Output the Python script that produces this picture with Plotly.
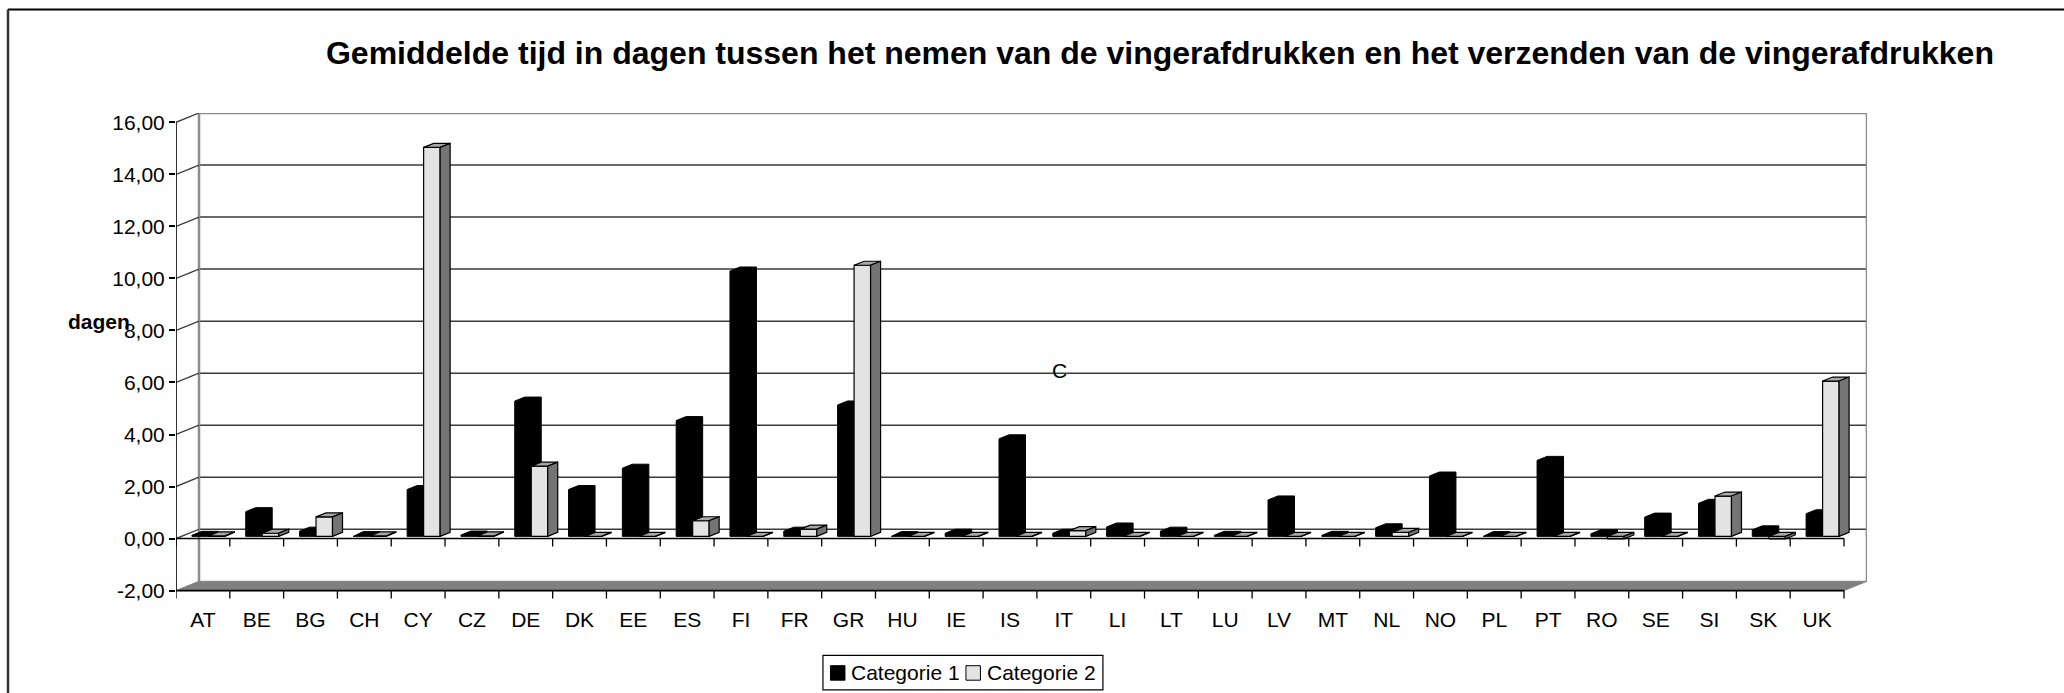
import plotly.graph_objects as go

# ---------------- data ----------------
categories = ["AT", "BE", "BG", "CH", "CY", "CZ", "DE", "DK", "EE", "ES", "FI",
              "FR", "GR", "HU", "IE", "IS", "IT", "LI", "LT", "LU", "LV", "MT",
              "NL", "NO", "PL", "PT", "RO", "SE", "SI", "SK", "UK"]
categorie_1 = [0.04, 0.95, 0.20, 0.03, 1.80, 0.05, 5.20, 1.80, 2.62, 4.45, 10.20,
               0.20, 5.05, 0.03, 0.12, 3.75, 0.12, 0.36, 0.20, 0.04, 1.40, 0.04,
               0.33, 2.32, 0.03, 2.92, 0.10, 0.74, 1.27, 0.25, 0.87]
categorie_2 = [0.02, 0.12, 0.75, 0.02, 14.95, 0.02, 2.70, 0.00, 0.00, 0.60, 0.00,
               0.28, 10.42, 0.00, 0.00, 0.00, 0.22, 0.00, 0.00, 0.00, 0.00, 0.00,
               0.15, 0.00, 0.00, 0.00, -0.10, 0.00, 1.55, -0.10, 5.97]
y_tick_vals = [-2, 0, 2, 4, 6, 8, 10, 12, 14, 16]
y_tick_text = ["-2,00", "0,00", "2,00", "4,00", "6,00", "8,00", "10,00", "12,00", "14,00", "16,00"]
series_names = ["Categorie 1", "Categorie 2"]
series_colors = ["black", "#e3e3e3"]
title_text = ("Gemiddelde tijd in dagen tussen het nemen van de vingerafdrukken "
              "en het verzenden van de vingerafdrukken")

# ---------------- geometry (pseudo 3D) ----------------
W, H = 2064, 693
PX_X = 53.81           # pixels per category
PX_Y = 26.0            # pixels per y unit
L_PX = 176.0           # left of plot area (front y axis)
ZERO_PX = 538.7        # pixel row of front zero line
N = len(categories)
WALL_DX = 23.0 / PX_X
WALL_DY = 9.3 / PX_Y
BAR_W = 16.5 / PX_X
BAR_DX = 10.0 / PX_X
BAR_DY = 4.0 / PX_Y
OFF_X = 5.5 / PX_X
OFF_Y = 2.2 / PX_Y
Y_MIN = -2.4
Y_MAX = 16 + WALL_DY
X_MAX = N + WALL_DX

plot_w = X_MAX * PX_X
top_px = ZERO_PX - Y_MAX * PX_Y
bot_px = ZERO_PX - Y_MIN * PX_Y
plot_h = bot_px - top_px
margin = dict(l=L_PX, r=W - L_PX - plot_w, t=top_px, b=H - bot_px, pad=0)


def px2paper_x(px):
    return (px - L_PX) / plot_w


def px2paper_y(py):
    return (bot_px - py) / plot_h


FONT = "Liberation Sans, Arial, sans-serif"
fig = go.Figure()

# ---------------- structure: wall, floor, grid ----------------
shapes = []
y_lo, y_hi = y_tick_vals[0], y_tick_vals[-1]
# floor
shapes.append(dict(type="path", xref="x", yref="y", layer="below",
                   path=f"M0,{y_lo} L{N},{y_lo} L{N + WALL_DX},{y_lo + WALL_DY} L{WALL_DX},{y_lo + WALL_DY} Z",
                   fillcolor="#808080", line=dict(color="#808080", width=1)))
# back wall grid lines
for v in y_tick_vals[1:-1]:
    shapes.append(dict(type="line", xref="x", yref="y", layer="below",
                       x0=WALL_DX, x1=N + WALL_DX, y0=v + WALL_DY, y1=v + WALL_DY,
                       line=dict(color="#3a3a3a", width=1.5)))
# back wall border
shapes.append(dict(type="path", xref="x", yref="y", layer="below",
                   path=(f"M{WALL_DX},{y_lo + WALL_DY} L{WALL_DX},{y_hi + WALL_DY} "
                         f"L{N + WALL_DX},{y_hi + WALL_DY} L{N + WALL_DX},{y_lo + WALL_DY}"),
                   line=dict(color="#8c8c8c", width=2.5)))
# left diagonals from front ticks to the wall
for v in y_tick_vals[1:]:
    shapes.append(dict(type="line", xref="x", yref="y", layer="below",
                       x0=0, x1=WALL_DX, y0=v, y1=v + WALL_DY,
                       line=dict(color="#3a3a3a", width=1.3)))
# front value axis
shapes.append(dict(type="line", xref="x", yref="y", x0=0, x1=0, y0=y_lo, y1=y_hi,
                   line=dict(color="black", width=1.6)))
# front category axis at 0 and floor front edge
for v in (0, y_lo):
    shapes.append(dict(type="line", xref="x", yref="y", x0=0, x1=N, y0=v, y1=v,
                       line=dict(color="black", width=1.6)))
# category boundary ticks
tick_len = 8.0 / PX_Y
for i in range(N + 1):
    for v in (0, y_lo):
        shapes.append(dict(type="line", xref="x", yref="y", x0=i, x1=i, y0=v, y1=v - tick_len,
                           line=dict(color="black", width=1.3)))
# outer frame (top + left)
fx = px2paper_x(8)
fy = px2paper_y(10)
shapes.append(dict(type="line", xref="paper", yref="paper", x0=fx, x1=px2paper_x(W + 10),
                   y0=fy, y1=fy, line=dict(color="black", width=2)))
shapes.append(dict(type="line", xref="paper", yref="paper", x0=fx, x1=fx,
                   y0=fy, y1=px2paper_y(H + 10), line=dict(color="#333333", width=2.5)))

# ---------------- legend (drawn box) ----------------
LEG_L, LEG_R, LEG_T, LEG_B = 823, 1103, 655.5, 690
shapes.append(dict(type="rect", xref="paper", yref="paper",
                   x0=px2paper_x(LEG_L), x1=px2paper_x(LEG_R),
                   y0=px2paper_y(LEG_B), y1=px2paper_y(LEG_T),
                   fillcolor="white", line=dict(color="black", width=1.2)))
leg_annotations = []
leg_sq_x = [830.5, 966]
leg_txt_x = [849, 985]
leg_cy = (LEG_T + LEG_B) / 2
for name, col, sx, tx in zip(series_names, series_colors, leg_sq_x, leg_txt_x):
    shapes.append(dict(type="rect", xref="paper", yref="paper",
                       x0=px2paper_x(sx), x1=px2paper_x(sx + 14.5),
                       y0=px2paper_y(leg_cy + 7.5), y1=px2paper_y(leg_cy - 7),
                       fillcolor=col, line=dict(color="black", width=1)))
    leg_annotations.append(dict(text=name, xref="paper", yref="paper", x=px2paper_x(tx),
                                y=px2paper_y(leg_cy), xanchor="left", yanchor="middle",
                                showarrow=False, font=dict(size=21)))


# ---------------- bars ----------------
def face_polys(values, series_idx):
    front_x, front_y, top_x, top_y, side_x, side_y, hex_x, hex_y = ([] for _ in range(8))
    for i, v in enumerate(values):
        c = i + 0.5 + OFF_X
        x0 = c - BAR_W if series_idx == 0 else c
        x1 = x0 + BAR_W
        b = OFF_Y + min(0, v)
        t = OFF_Y + max(0, v)
        front_x += [x0, x1, x1, x0, x0, None]
        front_y += [b, b, t, t, b, None]
        top_x += [x0, x1, x1 + BAR_DX, x0 + BAR_DX, x0, None]
        top_y += [t, t, t + BAR_DY, t + BAR_DY, t, None]
        side_x += [x1, x1 + BAR_DX, x1 + BAR_DX, x1, x1, None]
        side_y += [b, b + BAR_DY, t + BAR_DY, t, b, None]
        hex_x += [x0, x1, x1 + BAR_DX, x1 + BAR_DX, x0 + BAR_DX, x0, x0, None]
        hex_y += [b, b, b + BAR_DY, t + BAR_DY, t + BAR_DY, t, b, None]
    return (front_x, front_y), (top_x, top_y), (side_x, side_y), (hex_x, hex_y)


_, _, _, hex1 = face_polys(categorie_1, 0)
fig.add_trace(go.Scatter(x=hex1[0], y=hex1[1], mode="lines", fill="toself", name=series_names[0],
                         fillcolor="black", line=dict(color="black", width=1),
                         showlegend=False, hoverinfo="skip"))
front2, top2, side2, _ = face_polys(categorie_2, 1)
for (xs, ys), col in ((front2, "#e3e3e3"), (top2, "#a8a8a8"), (side2, "#747474")):
    fig.add_trace(go.Scatter(x=xs, y=ys, mode="lines", fill="toself", name=series_names[1],
                             fillcolor=col, line=dict(color="black", width=1.2),
                             showlegend=False, hoverinfo="skip"))

# ---------------- layout ----------------
fig.update_layout(
    width=W, height=H, autosize=False, margin=margin, showlegend=False,
    paper_bgcolor="white", plot_bgcolor="white",
    font=dict(family=FONT, size=21, color="black"),
    shapes=shapes,
    title=dict(text=title_text, xref="paper", x=px2paper_x(1160), xanchor="center",
               yref="container", y=1 - 53 / H, yanchor="middle",
               font=dict(family=FONT, size=32, weight="bold", color="black")),
    xaxis=dict(range=[0, X_MAX], showgrid=False, zeroline=False, showline=False,
               tickvals=[i + 0.5 for i in range(N)], ticktext=categories,
               ticks="", tickfont=dict(size=21), ticklabelstandoff=4, fixedrange=True),
    yaxis=dict(range=[Y_MIN, Y_MAX], showgrid=False, zeroline=False, showline=False,
               tickvals=y_tick_vals, ticktext=y_tick_text, ticks="outside", ticklen=6,
               tickwidth=1.5, tickcolor="black", tickfont=dict(size=21), fixedrange=True),
    annotations=[
        dict(text="<b>dagen</b>", xref="paper", yref="paper", x=px2paper_x(66),
             y=px2paper_y(322), xanchor="left", yanchor="middle", showarrow=False,
             font=dict(size=21)),
        dict(text="C", xref="paper", yref="paper", x=px2paper_x(1060),
             y=px2paper_y(371), xanchor="center", yanchor="middle", showarrow=False,
             font=dict(size=21)),
    ] + leg_annotations,
)

fig.write_html("out.html", config={"displayModeBar": False},
               post_script="document.body.style.margin='0';")
